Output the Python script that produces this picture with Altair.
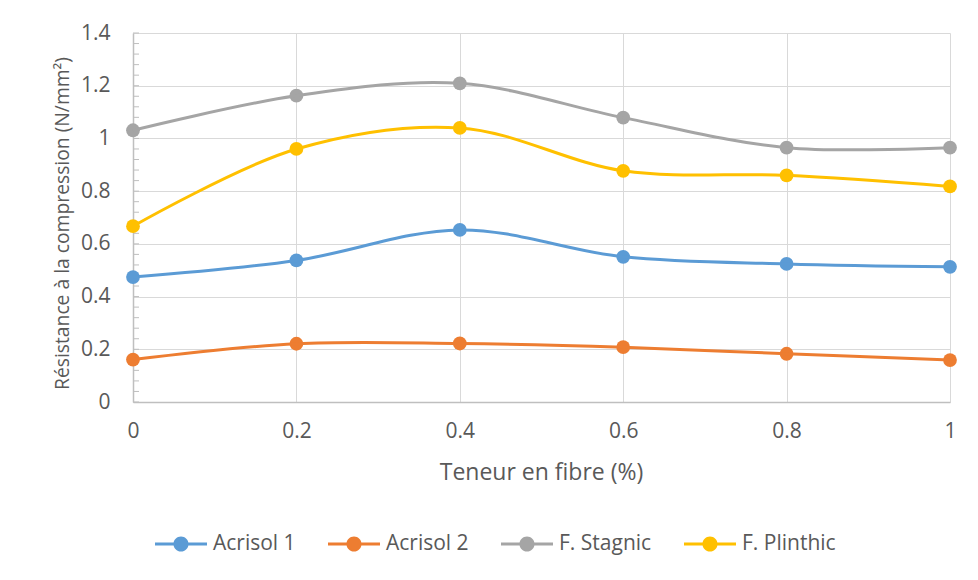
import altair as alt
import pandas as pd

# ---- data ----
fibre = [0, 0.2, 0.4, 0.6, 0.8, 1]
acrisol1 = [0.474, 0.537, 0.653, 0.551, 0.524, 0.513]
acrisol2 = [0.161, 0.221, 0.222, 0.208, 0.183, 0.159]
stagnic = [1.031, 1.162, 1.209, 1.079, 0.965, 0.965]
plinthic = [0.667, 0.960, 1.040, 0.877, 0.860, 0.818]
series = ["Acrisol 1", "Acrisol 2", "F. Stagnic", "F. Plinthic"]
colors = ["#5B9BD5", "#ED7D31", "#A5A5A5", "#FFC000"]
x_ticks = [0, 0.2, 0.4, 0.6, 0.8, 1]
y_ticks = [0, 0.2, 0.4, 0.6, 0.8, 1.0, 1.2, 1.4]
y_minor = [0, 0.04, 0.08, 0.12, 0.16, 0.2, 0.24, 0.28, 0.32, 0.36, 0.4, 0.44,
           0.48, 0.52, 0.56, 0.6, 0.64, 0.68, 0.72, 0.76, 0.8, 0.84, 0.88, 0.92,
           0.96, 1.0, 1.04, 1.08, 1.12, 1.16, 1.2, 1.24, 1.28, 1.32, 1.36, 1.4]

rows = []
for name, vals in zip(series, [acrisol1, acrisol2, stagnic, plinthic]):
    for f, v in zip(fibre, vals):
        rows.append({"fibre": f, "val": v, "serie": name})
df = pd.DataFrame(rows)
minor_df = pd.DataFrame({"val": y_minor})

FONT = "Open Sans"
TXT = "#595959"
GRID = "#D9D9D9"
AXIS = "#BFBFBF"

xscale = alt.Scale(domain=[0, 1], nice=False, zero=False)
yscale = alt.Scale(domain=[0, 1.4], nice=False)
cscale = alt.Scale(domain=series, range=colors)

x_enc = alt.X(
    "fibre:Q", scale=xscale,
    axis=alt.Axis(values=x_ticks, format="~g", title="Teneur en fibre (%)",
                  grid=True, gridColor=GRID, domainColor=AXIS, domainWidth=1.5,
                  ticks=False, tickSize=0, labelPadding=18, labelFlush=False,
                  labelFont=FONT, labelFontSize=21, labelColor=TXT,
                  titleFont=FONT, titleFontSize=23, titleColor=TXT,
                  titleFontWeight="normal", titleX=408, titleY=70,
                  titleBaseline="middle", titleAlign="center"),
)
y_axis = alt.Axis(values=y_ticks, format="~g",
                  title="Résistance à la compression (N/mm²)",
                  grid=True, gridColor=GRID, domainColor=AXIS, domainWidth=1.5,
                  ticks=False, tickSize=0, labelPadding=23, labelFlush=False,
                  labelFont=FONT, labelFontSize=21, labelColor=TXT,
                  titleFont=FONT, titleFontSize=19.3, titleColor=TXT,
                  titleFontWeight="normal", titleX=-71, titleY=190,
                  titleAngle=-90, titleBaseline="middle", titleAlign="center")
y_enc = alt.Y("val:Q", scale=yscale, axis=y_axis)

sym = ("M-1,-0.06L1,-0.06L1,0.06L-1,0.06Z "
       "M0.29,0A0.29,0.29 0 1,1 -0.29,0A0.29,0.29 0 1,1 0.29,0Z")
legend = alt.Legend(orient="none", legendX=22, legendY=485,
                    direction="horizontal", columns=4,
                    title=None, symbolType=sym, symbolSize=2704,
                    symbolStrokeWidth=0, symbolOpacity=1,
                    labelFont=FONT, labelFontSize=21,
                    labelColor=TXT, labelOffset=6,
                    columnPadding=32, padding=0)

minor = alt.Chart(minor_df).mark_rule(color=AXIS, strokeWidth=1).encode(
    y=y_enc,
    x=alt.value(0), x2=alt.value(6),
)

points = alt.Chart(df).mark_circle(size=190, opacity=1).encode(
    x=x_enc, y=y_enc,
    color=alt.Color("serie:N", scale=cscale, legend=legend),
)

lines = alt.Chart(df).mark_line(interpolate="catmull-rom", strokeWidth=3).encode(
    x=x_enc, y=y_enc,
    color=alt.Color("serie:N", scale=cscale, legend=legend),
)

chart = alt.layer(minor, points, lines).properties(
    width=817, height=369,
    autosize=alt.AutoSizeParams(type="none"),
    padding={"left": 125, "top": 25, "right": 20, "bottom": 178},
    background="white",
).configure_view(stroke=None)

chart.save("out.html", embed_options={"renderer": "svg", "actions": False})
